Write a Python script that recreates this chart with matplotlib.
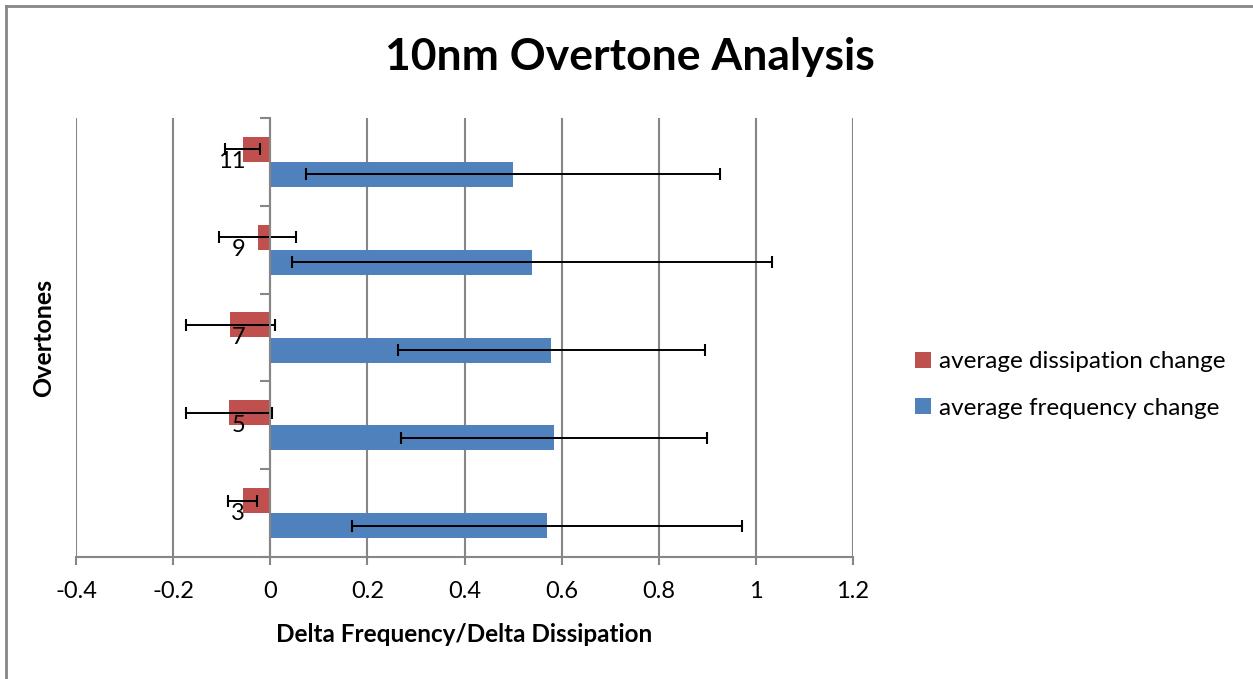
import matplotlib as mpl
import matplotlib.pyplot as plt
import numpy as np
from matplotlib.lines import Line2D

mpl.rcParams['font.family'] = ['Lato', 'DejaVu Sans']

# Data
overtones = ['3', '5', '7', '9', '11']
freq_change = [0.570, 0.584, 0.579, 0.539, 0.500]
freq_err = [0.402, 0.315, 0.316, 0.495, 0.426]
diss_change = [-0.057, -0.085, -0.082, -0.026, -0.057]
diss_err = [0.030, 0.088, 0.091, 0.080, 0.036]

RED = '#C0504D'
BLUE = '#4F81BD'
GRID = '#868686'

fig = plt.figure(figsize=(12.53, 6.79), dpi=100)
ax = fig.add_axes([76 / 1253, 1 - 557 / 679, 777 / 1253, 439 / 679])

y = np.arange(len(overtones))
h = 0.285

err_kw = dict(ecolor='black', elinewidth=1.4, capsize=4.2, capthick=1.5)
ax.barh(y + h / 2, diss_change, height=h, color=RED, xerr=diss_err,
        error_kw=err_kw, label='average dissipation change', zorder=3)
ax.barh(y - h / 2, freq_change, height=h, color=BLUE, xerr=freq_err,
        error_kw=err_kw, label='average frequency change', zorder=3)

ax.set_xlim(-0.4, 1.2)
ax.set_ylim(-0.5, len(overtones) - 0.5)
ax.set_xticks(np.arange(-0.4, 1.21, 0.2))
ax.set_xticklabels(['-0.4', '-0.2', '0', '0.2', '0.4', '0.6', '0.8', '1', '1.2'])
ax.xaxis.grid(True, color=GRID, linewidth=1.5, zorder=0)
ax.set_axisbelow(True)

# category axis crosses at zero
ax.spines['left'].set_position(('data', 0))
ax.spines['left'].set_color(GRID)
ax.spines['left'].set_linewidth(1.5)
ax.spines['left'].set_zorder(4)
ax.spines['bottom'].set_color(GRID)
ax.spines['bottom'].set_linewidth(1.5)
ax.spines['top'].set_visible(False)
ax.spines['right'].set_visible(False)
ax.set_yticks(np.arange(-0.5, len(overtones), 1.0))
ax.set_yticklabels([])
ax.tick_params(axis='y', length=7, width=1.5, color=GRID, direction='out')
ax.tick_params(axis='x', length=6, width=1.5, color=GRID, direction='out',
               labelsize=17, pad=11)

for yi, lab in zip(y, overtones):
    ax.annotate(lab, xy=(0, yi), xytext=(-18, 0), textcoords='offset points',
                ha='right', va='center', fontsize=17, zorder=5)

ax.set_xlabel('Delta Frequency/Delta Dissipation', fontsize=17.5, fontweight='bold')
ax.xaxis.set_label_coords(0.5, -0.15)
ax.set_ylabel('Overtones', fontsize=18, fontweight='bold')
ax.yaxis.set_label_coords(-0.027, 0.5)

fig.text(630 / 1253, 1 - 57 / 679, '10nm Overtone Analysis', ha='center',
         va='center', fontsize=32, fontweight='bold')

handles, labels = ax.get_legend_handles_labels()
fig.legend(handles, labels, loc='center left', bbox_to_anchor=(893 / 1253, 1 - 385 / 679),
           frameon=False, fontsize=17.5, handlelength=0.65, handleheight=0.65,
           handletextpad=0.35, labelspacing=1.05)

# chart area border (only left/top edges visible)
fig.add_artist(Line2D([6 / 1253, 6 / 1253], [0, 1 - 6 / 679], color=GRID, linewidth=2))
fig.add_artist(Line2D([6 / 1253, 1], [1 - 6 / 679, 1 - 6 / 679], color=GRID, linewidth=2))

fig.savefig('out.png', dpi=100)
